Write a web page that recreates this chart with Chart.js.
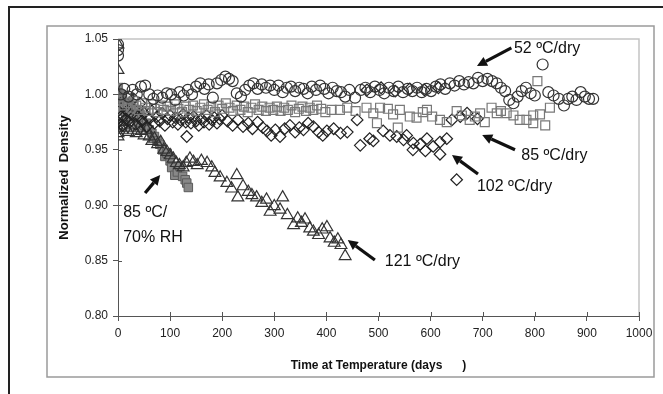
<!DOCTYPE html>
<html>
<head>
<meta charset="utf-8">
<script src="https://cdn.jsdelivr.net/npm/chart.js@4.4.1/dist/chart.umd.min.js"></script>
<style>
  html, body { margin: 0; padding: 0; background: #fff; }
  canvas { display: block; }
</style>
</head>
<body>
<canvas id="density" width="663" height="394"></canvas>
<script>
// 52 ºC/dry (open circles)
const days52 = [0, 0, 0, 6, 12, 20, 28, 36, 44, 52,
  60, 68, 76, 85, 94, 102, 110, 118, 126, 134,
  142, 150, 158, 166, 174, 182, 190, 198, 206, 213,
  220, 228, 236, 244, 252, 260, 268, 276, 284, 292,
  300, 308, 316, 324, 332, 340, 348, 356, 364, 372,
  380, 388, 396, 404, 412, 420, 428, 436, 444, 455,
  466, 475, 484, 493, 502, 511, 520, 529, 538, 547,
  556, 565, 574, 583, 592, 601, 610, 619, 628, 637,
  646, 655, 664, 673, 682, 691, 700, 709, 718, 727,
  735, 743, 751, 759, 767, 775, 783, 792, 800, 815,
  826, 836, 846, 856, 864, 872, 880, 888, 896, 904, 912]
const density52 = [1.040, 1.045, 1.035, 1.000, 1.005, 0.998, 1.004, 1.000, 1.007, 1.008,
  1.000, 0.996, 0.999, 0.997, 1.001, 1.000, 0.995, 1.002, 0.999, 1.004,
  1.000, 1.007, 1.010, 1.005, 1.009, 0.997, 1.010, 1.013, 1.016, 1.014,
  1.012, 1.001, 0.998, 1.004, 1.008, 1.010, 1.005, 1.009, 1.006, 1.008,
  1.004, 1.008, 1.002, 1.006, 1.007, 1.003, 1.006, 1.005, 1.001, 1.007,
  1.004, 1.008, 1.005, 1.001, 1.006, 1.003, 1.002, 0.998, 1.004, 0.997,
  1.004, 1.006, 1.002, 1.007, 1.004, 1.001, 1.006, 1.003, 1.007, 1.002,
  1.005, 1.003, 1.006, 1.002, 1.005, 1.003, 1.007, 1.009, 1.005, 1.010,
  1.008, 1.012, 1.009, 1.011, 1.010, 1.015, 1.012, 1.014, 1.012, 1.010,
  1.006, 1.003, 0.995, 0.992, 0.998, 1.003, 1.006, 1.001, 0.999, 1.027,
  1.002, 0.999, 0.996, 0.990, 0.996, 0.998, 0.995, 1.002, 0.998, 0.996, 0.996]

// 85 ºC/dry (open squares)
const days85 = [0, 0, 0, 4, 8, 12, 16, 20, 25, 30,
  35, 40, 46, 52, 58, 64, 70, 76, 82, 88,
  95, 102, 109, 116, 123, 130, 137, 144, 151, 158,
  165, 172, 179, 186, 193, 200, 207, 214, 221, 228,
  235, 242, 249, 256, 263, 270, 277, 284, 291, 298,
  305, 312, 319, 326, 333, 340, 347, 354, 361, 368,
  375, 382, 390, 398, 410, 426, 440, 456, 477, 490,
  497, 503, 518, 528, 537, 541, 560, 573, 585, 593,
  603, 618, 631, 650, 660, 675, 685, 695, 704, 717,
  727, 735, 746, 759, 771, 784, 797, 797, 805, 810,
  820, 829]
const density85 = [1.006, 1.000, 0.994, 0.999, 0.995, 0.990, 0.997, 0.992, 0.988, 0.994,
  0.990, 0.986, 0.992, 0.988, 0.985, 0.991, 0.987, 0.984, 0.990, 0.986,
  0.989, 0.985, 0.991, 0.987, 0.984, 0.989, 0.986, 0.990, 0.985, 0.988,
  0.991, 0.986, 0.989, 0.984, 0.990, 0.987, 0.992, 0.988, 0.985, 0.990,
  0.986, 0.989, 0.984, 0.988, 0.991, 0.986, 0.989, 0.985, 0.988, 0.986,
  0.989, 0.985, 0.988, 0.986, 0.990, 0.984, 0.987, 0.989, 0.985, 0.988,
  0.986, 0.990, 0.987, 0.984, 0.986, 0.986, 0.988, 0.985, 0.988, 0.983,
  0.974, 0.988, 0.987, 0.982, 0.970, 0.986, 0.980, 0.979, 0.984, 0.986,
  0.980, 0.977, 0.975, 0.985, 0.981, 0.977, 0.980, 0.983, 0.975, 0.988,
  0.983, 0.985, 0.983, 0.981, 0.977, 0.977, 0.981, 0.974, 1.012, 0.982,
  0.972, 0.988]

// 102 ºC/dry (open diamonds)
const days102 = [0, 0, 0, 3, 6, 9, 12, 15, 18, 22,
  26, 30, 34, 38, 42, 46, 50, 55, 60, 65,
  70, 75, 80, 85, 90, 95, 100, 105, 110, 115,
  120, 125, 130, 132, 135, 140, 145, 150, 155, 160,
  165, 170, 175, 180, 185, 190, 195, 200, 210, 220,
  230, 240, 250, 258, 268, 278, 286, 294, 302, 311,
  320, 330, 340, 348, 356, 365, 375, 385, 393, 401,
  414, 427, 440, 459, 465, 483, 490, 509, 522, 535,
  548, 554, 566, 567, 580, 590, 593, 605, 618, 618,
  631, 641, 650, 657, 670, 690,
  478, 505, 532, 560, 588, 615]
const density102 = [1.000, 0.985, 0.975, 0.995, 0.980, 0.972, 0.990, 0.978, 0.985, 0.975,
  0.982, 0.996, 0.973, 0.980, 0.992, 0.976, 0.983, 0.971, 0.978, 0.985,
  0.974, 0.980, 0.976, 0.983, 0.972, 0.978, 0.981, 0.975, 0.979, 0.973,
  0.977, 0.982, 0.975, 0.962, 0.979, 0.974, 0.980, 0.976, 0.972, 0.978,
  0.975, 0.981, 0.973, 0.977, 0.979, 0.974, 0.978, 0.981, 0.976, 0.972,
  0.977, 0.971, 0.974, 0.969, 0.975, 0.970, 0.967, 0.963, 0.968, 0.962,
  0.969, 0.972, 0.966, 0.970, 0.968, 0.974, 0.971, 0.966, 0.963, 0.967,
  0.969, 0.965, 0.966, 0.977, 0.954, 0.960, 0.958, 0.967, 0.963, 0.962,
  0.959, 0.963, 0.950, 0.956, 0.955, 0.949, 0.960, 0.953, 0.957, 0.946,
  0.960, 0.977, 0.923, 0.980, 0.983, 0.978,
  1.004, 1.006, 1.003, 1.005, 1.004, 1.006]

// 121 ºC/dry (open triangles)
const days121 = [0, 0, 0, 0, 0, 4, 8, 12, 16, 20,
  25, 30, 35, 40, 45, 50, 55, 60, 65, 70,
  76, 82, 88, 94, 100, 106, 112, 118, 125, 131,
  138, 145, 152, 160, 171, 180, 186, 196, 209, 218,
  228, 230, 240, 250, 257, 266, 276, 285, 292, 300,
  311, 316, 325, 337, 345, 352, 359, 368, 375, 385,
  392, 401, 407, 415, 422, 428, 436]
const density121 = [1.045, 1.022, 0.970, 0.965, 0.962, 0.972, 0.968, 0.975, 0.970, 0.966,
  0.972, 0.968, 0.965, 0.970, 0.967, 0.963, 0.968, 0.962, 0.958, 0.960,
  0.955, 0.957, 0.950, 0.948, 0.945, 0.942, 0.938, 0.936, 0.934, 0.938,
  0.942, 0.939, 0.936, 0.940, 0.938, 0.934, 0.929, 0.925, 0.920, 0.915,
  0.927, 0.907, 0.917, 0.912, 0.909, 0.907, 0.902, 0.905, 0.894, 0.899,
  0.896, 0.907, 0.891, 0.882, 0.888, 0.884, 0.887, 0.879, 0.876, 0.873,
  0.878, 0.880, 0.870, 0.866, 0.869, 0.864, 0.854]

// 85 ºC/70% RH (filled squares)
const daysRH = [0, 0, 0, 3, 6, 9, 12, 15, 18, 22,
  26, 30, 34, 38, 42, 46, 50, 55, 60, 65,
  70, 75, 80, 85, 90, 94, 100, 103, 109, 114,
  119, 124, 129, 132, 135]
const densityRH = [1.006, 0.998, 0.990, 0.985, 1.000, 0.994, 0.988, 0.980, 0.992, 0.985,
  0.990, 0.978, 0.986, 0.975, 0.982, 0.979, 0.972, 0.974, 0.968, 0.965,
  0.962, 0.958, 0.955, 0.950, 0.944, 0.947, 0.940, 0.934, 0.927, 0.930,
  0.935, 0.926, 0.923, 0.920, 0.916]

const xTicks = [0, 100, 200, 300, 400, 500, 600, 700, 800, 900, 1000]
const yTicks = [0.80, 0.85, 0.90, 0.95, 1.00, 1.05]

// labels placed in data units, arrows go from tail to head
const notes = [
  { text: '52 ºC/dry', at: [760, 1.041], tail: [755, 1.042], head: [689, 1.0256] },
  { text: '85 ºC/dry', at: [774, 0.9445], tail: [762, 0.950], head: [699, 0.9634] },
  { text: '102 ºC/dry', at: [689, 0.9164], tail: [691, 0.9282], head: [641, 0.9453] },
  { text: '121 ºC/dry', at: [512, 0.8487], tail: [493, 0.8505], head: [441, 0.8686] },
  { text: '85 ºC/', at: [10, 0.893], tail: [52, 0.911], head: [81, 0.9273] },
  { text: '70% RH', at: [10, 0.8704] }
]

function toPoints(xs, ys){
  return xs.map((x, i) => ({ x: x, y: ys[i] }))
}

function drawArrow(ctx, x1, y1, x2, y2){
  const ang = Math.atan2(y2 - y1, x2 - x1)
  const len = 10
  const half = 5
  const bx = x2 - Math.cos(ang) * len
  const by = y2 - Math.sin(ang) * len
  ctx.save()
  ctx.strokeStyle = '#111'
  ctx.fillStyle = '#111'
  ctx.lineWidth = 3.2
  ctx.beginPath()
  ctx.moveTo(x1, y1)
  ctx.lineTo(bx, by)
  ctx.stroke()
  ctx.beginPath()
  ctx.moveTo(x2, y2)
  ctx.lineTo(bx + Math.sin(ang) * half, by - Math.cos(ang) * half)
  ctx.lineTo(bx - Math.sin(ang) * half, by + Math.cos(ang) * half)
  ctx.closePath()
  ctx.fill()
  ctx.restore()
}

const decorations = {
  id: 'decorations',
  beforeDraw(chart){
    const ctx = chart.ctx
    ctx.save()
    ctx.fillStyle = '#fff'
    ctx.fillRect(0, 0, chart.width, chart.height)
    // outer black frame (left and top only, rest is cropped)
    ctx.strokeStyle = '#222'
    ctx.lineWidth = 2
    ctx.beginPath()
    ctx.moveTo(9, 394)
    ctx.lineTo(9, 7)
    ctx.lineTo(663, 7)
    ctx.stroke()
    // grey chart box
    ctx.strokeStyle = '#9a9a9a'
    ctx.lineWidth = 1.5
    ctx.strokeRect(47, 26, 607, 351)
    ctx.restore()
  },
  afterDraw(chart){
    const ctx = chart.ctx
    const a = chart.chartArea
    const xs = chart.scales.x
    const ys = chart.scales.y
    ctx.save()
    // plot border top and right
    ctx.strokeStyle = '#c4c4c4'
    ctx.lineWidth = 1.5
    ctx.beginPath()
    ctx.moveTo(a.left, a.top)
    ctx.lineTo(a.right, a.top)
    ctx.lineTo(a.right, a.bottom)
    ctx.stroke()
    // inner tick marks
    ctx.strokeStyle = '#555'
    ctx.lineWidth = 1
    ctx.beginPath()
    xTicks.forEach(v => {
      const px = Math.round(xs.getPixelForValue(v)) + 0.5
      ctx.moveTo(px, a.bottom)
      ctx.lineTo(px, a.bottom - 4)
    })
    yTicks.forEach(v => {
      const py = Math.round(ys.getPixelForValue(v)) + 0.5
      ctx.moveTo(a.left, py)
      ctx.lineTo(a.left + 4, py)
    })
    ctx.stroke()

    // axis titles
    ctx.fillStyle = '#111'
    ctx.font = 'bold 13px "Liberation Sans", Arial, sans-serif'
    ctx.textAlign = 'center'
    ctx.textBaseline = 'middle'
    ctx.save()
    ctx.translate(64, (a.top + a.bottom) / 2)
    ctx.rotate(-Math.PI / 2)
    ctx.fillText('Normalized  Density', 0, 0)
    ctx.restore()
    ctx.font = 'bold 12px "Liberation Sans", Arial, sans-serif'
    ctx.fillText('Time at Temperature (days      )', (a.left + a.right) / 2, 366)

    // annotations
    notes.forEach(n => {
      if (n.tail) {
        drawArrow(ctx,
          xs.getPixelForValue(n.tail[0]), ys.getPixelForValue(n.tail[1]),
          xs.getPixelForValue(n.head[0]), ys.getPixelForValue(n.head[1]))
      }
    })
    ctx.fillStyle = '#111'
    ctx.font = '16px "Liberation Sans", Arial, sans-serif'
    ctx.textAlign = 'left'
    ctx.textBaseline = 'middle'
    notes.forEach(n => {
      ctx.fillText(n.text, xs.getPixelForValue(n.at[0]), ys.getPixelForValue(n.at[1]))
    })
    ctx.restore()
  }
}

function loadDensityChart(){
  Chart.defaults.color = '#222'
  Chart.defaults.font.family = '"Liberation Sans", Arial, sans-serif'
  Chart.defaults.font.size = 12

  const none = 'rgba(0,0,0,0)'
  const data = {
    datasets: [
      {
        label: '52 ºC/dry',
        data: toPoints(days52, density52),
        pointStyle: 'circle',
        pointRadius: 5.5,
        borderColor: '#333',
        backgroundColor: none,
        borderWidth: 1.2
      },
      {
        label: '85 ºC/dry',
        data: toPoints(days85, density85),
        pointStyle: 'rect',
        pointRadius: 6.3,
        borderColor: '#787878',
        backgroundColor: none,
        borderWidth: 1.2
      },
      {
        label: '102 ºC/dry',
        data: toPoints(days102, density102),
        pointStyle: 'rectRot',
        pointRadius: 5.8,
        borderColor: '#222',
        backgroundColor: none,
        borderWidth: 1.2
      },
      {
        label: '121 ºC/dry',
        data: toPoints(days121, density121),
        pointStyle: 'triangle',
        pointRadius: 6.8,
        borderColor: '#333',
        backgroundColor: none,
        borderWidth: 1.2
      },
      {
        label: '85 ºC/70% RH',
        data: toPoints(daysRH, densityRH),
        pointStyle: 'rect',
        pointRadius: 6,
        borderColor: '#5a5a5a',
        backgroundColor: '#888',
        borderWidth: 1
      }
    ]
  }

  const config = {
    type: 'scatter',
    data: data,
    plugins: [decorations],
    options: {
      responsive: false,
      animation: false,
      events: [],
      layout: {
        padding: { left: 0, top: 39, right: 24, bottom: 0 }
      },
      plugins: {
        legend: { display: false },
        tooltip: { enabled: false }
      },
      scales: {
        x: {
          type: 'linear',
          min: 0,
          max: 1000,
          afterFit: s => { s.height = 78 },
          afterBuildTicks: s => { s.ticks = xTicks.map(v => ({ value: v })) },
          ticks: {
            padding: 5,
            color: '#222',
            callback: v => String(v)
          },
          grid: {
            drawOnChartArea: false,
            tickLength: 5,
            color: '#555'
          },
          border: { color: '#555', width: 1 }
        },
        y: {
          type: 'linear',
          min: 0.8,
          max: 1.05,
          afterFit: s => { s.width = 118 },
          afterBuildTicks: s => { s.ticks = yTicks.map(v => ({ value: v })) },
          ticks: {
            padding: 5,
            color: '#222',
            callback: v => Number(v).toFixed(2)
          },
          grid: {
            drawOnChartArea: false,
            tickLength: 5,
            color: '#555'
          },
          border: { color: '#555', width: 1 }
        }
      }
    }
  }

  const densityChart = new Chart(
    document.getElementById('density'),
    config
  )
}

loadDensityChart()
</script>
</body>
</html>
